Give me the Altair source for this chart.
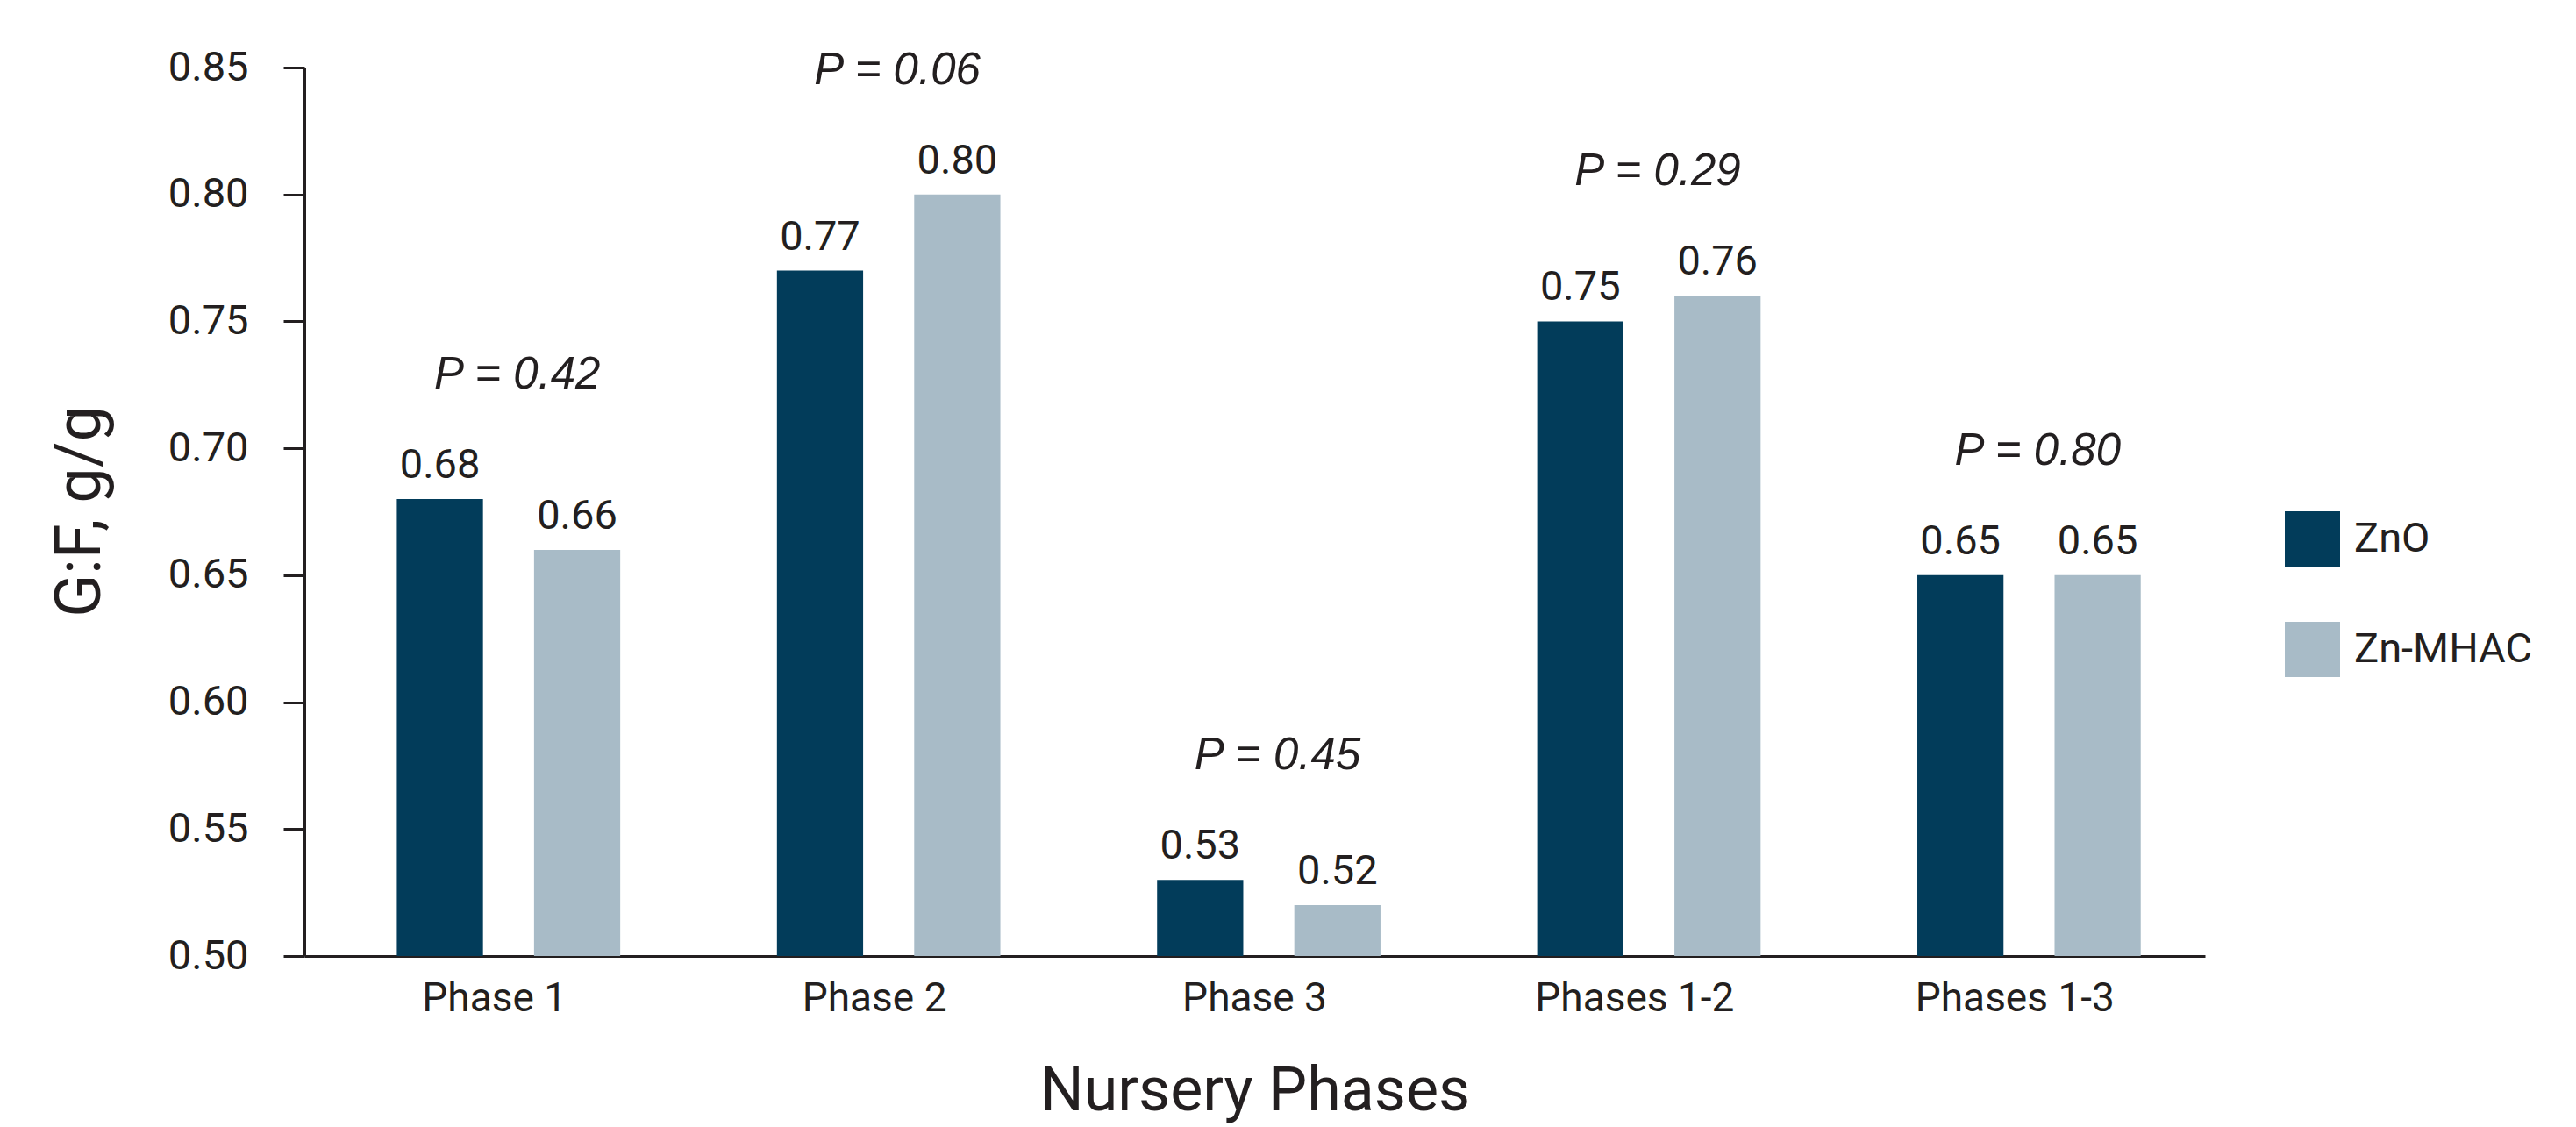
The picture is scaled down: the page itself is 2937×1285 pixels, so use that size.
import altair as alt
import pandas as pd

# G:F by nursery phase for the two zinc sources
phases = ["Phase 1", "Phase 2", "Phase 3", "Phases 1-2", "Phases 1-3"]
treatments = ["ZnO", "Zn-MHAC"]
zno = [0.68, 0.77, 0.53, 0.75, 0.65]
zn_mhac = [0.66, 0.80, 0.52, 0.76, 0.65]
p_values = ["0.42", "0.06", "0.45", "0.29", "0.80"]
y_ticks = [0.50, 0.55, 0.60, 0.65, 0.70, 0.75, 0.80, 0.85]

colors = ["#023c5a", "#a8bbc7"]
ink = "#231f20"
sans = "Roboto, Liberation Sans, sans-serif"
italic_sans = "Liberation Sans, Arial, sans-serif"

rows = []
for i, ph in enumerate(phases):
    rows.append({"phase": ph, "trt": treatments[0], "gf": zno[i]})
    rows.append({"phase": ph, "trt": treatments[1], "gf": zn_mhac[i]})
bars_df = pd.DataFrame(rows)

p_df = pd.DataFrame({
    "phase": phases,
    "top": [max(a, b) for a, b in zip(zno, zn_mhac)],
    "label": [f"P = {p}" for p in p_values],
})

W, H = 2167, 1013

x_scale = alt.Scale(domain=phases, paddingInner=0, paddingOuter=0)
off_scale = alt.Scale(domain=treatments, paddingInner=0.372, paddingOuter=0.571, align=0.59)
y_scale = alt.Scale(domain=[0.5, 0.85], zero=False, nice=False)

x_enc = alt.X(
    "phase:N", scale=x_scale, sort=phases,
    axis=alt.Axis(
        title="Nursery Phases", labelAngle=0, ticks=False, tickSize=0,
        labelPadding=26, labelFont=sans, labelFontSize=46, labelColor=ink, labelLimit=600,
        titleFont=sans, titleFontSize=70, titleFontWeight="normal", titleColor=ink,
        titleBaseline="alphabetic", titleY=175,
        domainColor=ink, domainWidth=3,
    ),
)

bars = alt.Chart(bars_df).mark_bar().encode(
    x=x_enc,
    xOffset=alt.XOffset("trt:N", scale=off_scale, sort=treatments),
    y=alt.Y(
        "gf:Q", scale=y_scale,
        axis=alt.Axis(
            title="G:F, g/g", values=y_ticks, format=".2f", grid=False,
            tickSize=24, tickWidth=3, tickColor=ink, labelPadding=40,
            labelFont=sans, labelFontSize=47, labelColor=ink,
            domainColor=ink, domainWidth=3,
            titleFont=sans, titleFontSize=72, titleFontWeight="normal", titleColor=ink,
            titleAngle=-90, titleBaseline="alphabetic", titleX=-234, titleY=506,
        ),
    ),
    y2=alt.datum(0.5),
    color=alt.Color(
        "trt:N", scale=alt.Scale(domain=treatments, range=colors), sort=treatments,
        legend=alt.Legend(
            title=None, orient="none", legendX=2258, legendY=506,
            symbolType="square", symbolSize=3969, symbolStrokeWidth=0,
            symbolOpacity=1, labelFont=sans, labelFontSize=47, labelColor=ink,
            labelOffset=16, rowPadding=63, labelLimit=600,
        ),
    ),
)

values = alt.Chart(bars_df).mark_text(
    font=sans, fontSize=47, color=ink, baseline="alphabetic", dy=-24
).encode(
    x=alt.X("phase:N", scale=x_scale, sort=phases),
    xOffset=alt.XOffset("trt:N", scale=off_scale, sort=treatments),
    y=alt.Y("gf:Q", scale=y_scale),
    text=alt.Text("gf:Q", format=".2f"),
)

p_text = alt.Chart(p_df).mark_text(
    font=italic_sans, fontSize=51, fontStyle="italic", color=ink,
    baseline="alphabetic", dx=26, dy=-126,
).encode(
    x=alt.X("phase:N", scale=x_scale, sort=phases),
    y=alt.Y("top:Q", scale=y_scale),
    text="label:N",
)

chart = (
    alt.layer(bars, values, p_text)
    .properties(
        width=W, height=H,
        autosize=alt.AutoSizeParams(type="none"),
        padding={"left": 347, "top": 77, "right": 2937 - 347 - W, "bottom": 1285 - 77 - H},
        background="white",
    )
    .configure_view(stroke=None)
)

chart.save("out.html", embed_options={"renderer": "svg", "actions": False})
